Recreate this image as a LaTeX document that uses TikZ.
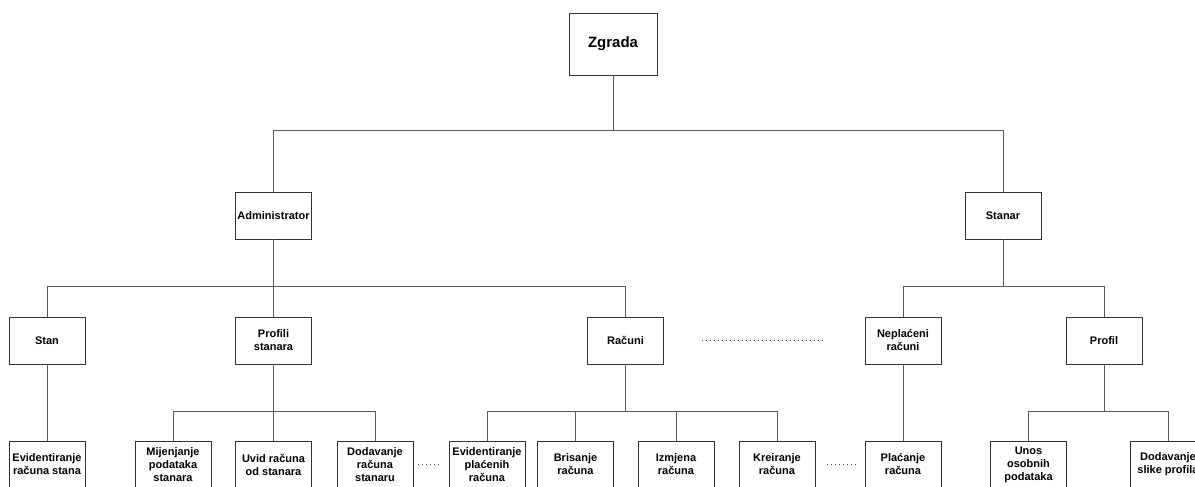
\documentclass[tikz,border=0pt]{standalone}
\usepackage{fontspec}
\setmainfont{Liberation Sans}
\usetikzlibrary{calc}
\newcommand{\boxfont}{\fontsize{11}{13}\selectfont\bfseries}
\tikzset{
	kutija/.style={draw=black!80, fill=white, line width=0.8pt, minimum width=76pt, minimum height=47pt, inner sep=1pt, align=center, font=\boxfont},
	veza/.style={draw=black!65, line width=0.8pt},
	tackice/.style={draw=black!70, line width=0.8pt, dash pattern=on 0.8pt off 3.2pt}
}

\begin{document}
\begin{tikzpicture}[x=1pt, y=-1pt]
				\useasboundingbox[fill=white] (0,0) rectangle (1195,487);
				\node[kutija, minimum width=88pt, minimum height=62pt, font=\fontsize{15}{18}\selectfont\bfseries] (zgrada) at (613,44) {Zgrada};
				\node[kutija] (admin) at (273.5,215.5) {Administrator};
				\node[kutija] (stanar) at (1003,215.5) {Stanar};
				
				\node[kutija] (stan) at (47,340.5) {Stan};
				\node[kutija] (profili) at (273.5,340.5) {Profili\\stanara};
				\node[kutija] (racuni) at (625.5,340.5) {Računi};
				\node[kutija] (neplaceni) at (903,340.5) {Neplaćeni\\računi};
				\node[kutija] (profil) at (1104,340.5) {Profil};
				
				\node[kutija] (evidStan) at (47,464.5) {Evidentiranje\\računa stana};
				\node[kutija] (mijenjanje) at (173,464.5) {Mijenjanje\\podataka\\stanara};
				\node[kutija] (uvid) at (273.5,464.5) {Uvid računa\\od stanara};
				\node[kutija] (dodRacuna) at (375,464.5) {Dodavanje\\računa\\stanaru};
				\node[kutija] (evidPlacenih) at (487,464.5) {Evidentiranje\\plaćenih\\računa};
				\node[kutija] (brisanje) at (575.5,464.5) {Brisanje\\računa};
				\node[kutija] (izmjena) at (676,464.5) {Izmjena\\računa};
				\node[kutija] (kreiranje) at (777,464.5) {Kreiranje\\računa};
				\node[kutija] (placanje) at (903,464.5) {Plaćanje\\računa};
				\node[kutija] (unos) at (1028.5,464.5) {Unos\\osobnih\\podataka};
				\node[kutija] (dodSlike) at (1168,464.5) {Dodavanje\\slike profila};
				
				% sabirnice
				\coordinate (bus1) at (0,130);
				\coordinate (bus2) at (0,286);
				\coordinate (bus3) at (0,411);
				
				\draw[veza] (zgrada.south) -- (zgrada.south |- bus1);
				\draw[veza] (zgrada.south |- bus1) -| (admin.north);
				\draw[veza] (zgrada.south |- bus1) -| (stanar.north);
				
				\draw[veza] (admin.south) -- (admin.south |- bus2);
				\foreach \dijete in {stan, profili, racuni}
					\draw[veza] (admin.south |- bus2) -| (\dijete.north);
				\draw[veza] (stanar.south) -- (stanar.south |- bus2);
				\foreach \dijete in {neplaceni, profil}
					\draw[veza] (stanar.south |- bus2) -| (\dijete.north);
				
				\draw[veza] (stan.south) -- (evidStan.north);
				\draw[veza] (profili.south) -- (profili.south |- bus3);
				\foreach \dijete in {mijenjanje, uvid, dodRacuna}
					\draw[veza] (profili.south |- bus3) -| (\dijete.north);
				\draw[veza] (racuni.south) -- (racuni.south |- bus3);
				\foreach \dijete in {evidPlacenih, brisanje, izmjena, kreiranje}
					\draw[veza] (racuni.south |- bus3) -| (\dijete.north);
				\draw[veza] (neplaceni.south) -- (placanje.north);
				\draw[veza] (profil.south) -- (profil.south |- bus3);
				\foreach \dijete in {unos, dodSlike}
					\draw[veza] (profil.south |- bus3) -| (\dijete.north);
				
				% tackaste veze
				\draw[tackice, shorten <=38pt, shorten >=40pt] (racuni.east) -- (neplaceni.west);
				\draw[tackice, shorten <=5pt, shorten >=9pt] (dodRacuna.east) -- (evidPlacenih.west);
				\draw[tackice, shorten <=12pt, shorten >=6pt] (kreiranje.east) -- (placanje.west);
				
			\end{tikzpicture}
\end{document}
